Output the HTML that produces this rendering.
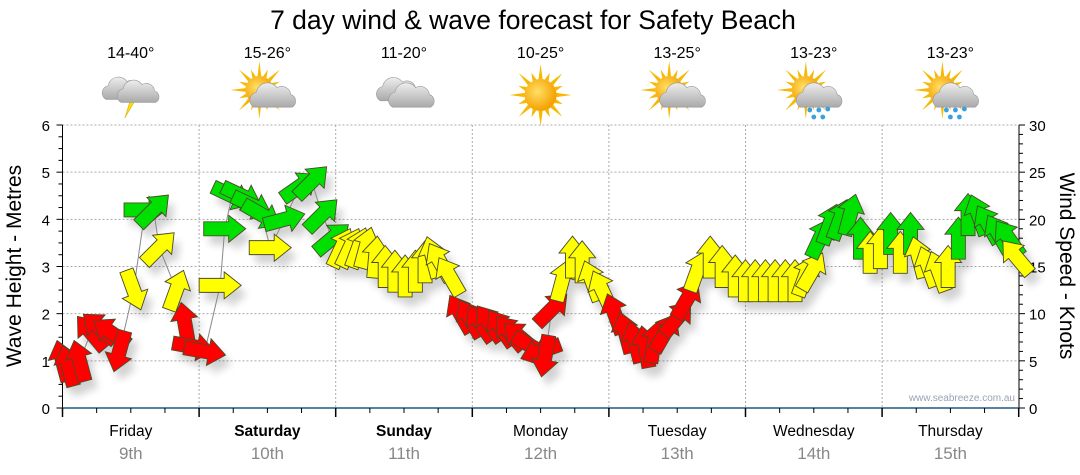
<!DOCTYPE html>
<html><head><meta charset="utf-8"><style>
html,body{margin:0;padding:0;background:#fff;}
svg{display:block;font-family:"Liberation Sans","DejaVu Sans",sans-serif;}
</style></head><body>
<svg id="chart" width="1080" height="475" viewBox="0 0 1080 475" xmlns="http://www.w3.org/2000/svg">
<defs>
<filter id="sh" x="-50%" y="-50%" width="200%" height="200%"><feGaussianBlur in="SourceAlpha" stdDeviation="4"/><feOffset dx="6" dy="9"/><feComponentTransfer><feFuncA type="linear" slope="0.18"/></feComponentTransfer></filter>
<radialGradient id="sun" cx="0.4" cy="0.4" r="0.6"><stop offset="0" stop-color="#ffe066"/><stop offset="1" stop-color="#f5a000"/></radialGradient>
<linearGradient id="cloud" x1="0" y1="0" x2="0" y2="1"><stop offset="0" stop-color="#eeeeee"/><stop offset="1" stop-color="#a9a9a9"/></linearGradient>
</defs>
<text x="533" y="29" font-size="26.5" text-anchor="middle" fill="#000">7 day wind &amp; wave forecast for Safety Beach</text>
<g id="grid"></g>
<g id="icons"></g>
<g id="axes"></g>
<g id="marks"></g>
<text x="1015" y="401" font-size="10" text-anchor="end" fill="#9aa3b5">www.seabreeze.com.au</text>
<text transform="translate(21,266) rotate(-90)" font-size="21" text-anchor="middle" fill="#000">Wave Height - Metres</text>
<text transform="translate(1060,266) rotate(90)" font-size="21" text-anchor="middle" fill="#000">Wind Speed - Knots</text>
</svg>
<script>
const dayNames=["Friday","Saturday","Sunday","Monday","Tuesday","Wednesday","Thursday"];
const dayDates=["9th","10th","11th","12th","13th","14th","15th"];
const dayBold=[false,true,true,false,false,false,false];
const tempLabels=["14-40°","15-26°","11-20°","10-25°","13-25°","13-23°","13-23°"];
const iconTypes=["storm","partly","cloudy","sunny","partly","rain","rain"];
const leftTicks=[0,1,2,3,4,5,6];
const rightTicks=[0,5,10,15,20,25,30];
// wind: hours from Friday 00:00, knots, arrow pointing direction (deg, 0=up, clockwise)
const windHours=[0,1,3,5,6.5,8.5,10,12.5,14.5,16,17,20,21.5,23,
25,27.7,28.5,29.8,31.5,33.3,35,36.5,39,41.7,43.8,45.6,47.4,
49,50.5,52,53.3,55,56.7,58.4,60.2,62,63.7,65,66.3,68,
69.9,71.6,73.4,75,77,78.6,80.4,82.5,84,84.8,86,87.8,89.6,91.3,93,94.8,
97,98.9,100.6,102.4,104,105.9,108,109.7,111.5,113.8,115.9,118.2,
120,121.7,123.5,125.2,127,128.7,130.5,131.7,133.1,134.8,136.6,138.4,140.2,141.9,
143.7,145.5,147.2,149,150.4,152.1,153.9,155.6,157.4,159.1,160.9,162.6,164.4,166.2,167.6];
const windKnots=[5,4.5,5,8,8.5,8,6,12.5,21,21,17,12.5,9,6.5,
6,13,19,22.5,22.5,21.5,20.5,17,20,23.5,24,20.5,18,
17,17,17,17,16,15,14.5,14,14.5,15.5,16,15.5,14,
10,9.5,9,9,8.5,8,7.5,6.5,6,5.5,10.5,13.5,16,15.5,13.5,12.5,
10,8,7,6.5,7,8,9.5,11.5,14.5,16,15,14,
13.5,13.5,13.5,13.5,13.5,13.5,14,14.5,18,19.5,20,20.5,18,16.5,
17,18.5,16.5,18.5,16,15,14.5,15,18,20.5,20.5,19.5,18.5,18,16];
const windDir=[-15,-15,-15,-40,-50,-55,195,160,90,45,45,20,-10,100,
100,90,90,115,115,115,120,90,75,55,45,45,50,
25,25,20,15,5,0,0,0,0,0,-15,-30,
-30,-30,-30,-35,-35,-35,-40,-50,120,250,190,45,15,0,0,-20,-25,
-20,-15,-15,-10,10,30,40,30,20,0,0,0,
0,0,0,0,0,0,20,30,25,20,20,15,0,0,
0,0,0,0,-15,-20,-20,0,0,0,-20,-30,-30,-35,-40];

const NS="http://www.w3.org/2000/svg";
const X0=62.5, DW=136.6, Y0=408, YT=125;
const xH=h=>X0+h*DW/24;
const yM=m=>Y0-(m/6)*(Y0-YT);
const yK=k=>Y0-(k/30)*(Y0-YT);
function mk(tag,attrs,parent){const e=document.createElementNS(NS,tag);for(const k in attrs)e.setAttribute(k,attrs[k]);parent.appendChild(e);return e;}
const grid=document.getElementById('grid'),axes=document.getElementById('axes'),marks=document.getElementById('marks'),icons=document.getElementById('icons');

leftTicks.forEach(v=>{if(v>0){const l=mk('line',{x1:X0,x2:1019,y1:yM(v),y2:yM(v),stroke:'#aaa','stroke-width':1,'stroke-dasharray':'2,2'},grid);

}});
for(let d=1;d<7;d++){const l=mk('line',{x1:X0+d*DW,x2:X0+d*DW,y1:YT,y2:Y0,stroke:'#aaa','stroke-width':1,'stroke-dasharray':'2,2'},grid);

}

mk('line',{x1:X0,x2:X0,y1:YT,y2:Y0,stroke:'#000','stroke-width':1},axes);
mk('line',{x1:1019,x2:1019,y1:YT,y2:Y0,stroke:'#000','stroke-width':1},axes);
const xa=mk('line',{x1:X0,x2:1019,y1:Y0,y2:Y0,stroke:'#1f5a80','stroke-width':1.5},axes);


for(let m=0;m<=24;m++){const v=m*0.25;const w=(m%4===0)?6:4;mk('line',{x1:X0-w,x2:X0,y1:yM(v),y2:yM(v),stroke:'#000'},axes);}
for(let k=0;k<=30;k++){const w=(k%5===0)?6:4;mk('line',{x1:1019,x2:1019+w,y1:yK(k),y2:yK(k),stroke:'#000'},axes);}
leftTicks.forEach(v=>{const t=mk('text',{x:50,y:yM(v)+6,'font-size':15,'text-anchor':'end',fill:'#000'},axes);t.textContent=v;

});
rightTicks.forEach(v=>{const t=mk('text',{x:1029,y:yK(v)+6,'font-size':15,'text-anchor':'start',fill:'#000'},axes);t.textContent=v;

});
for(let q=0;q<=28;q++){const x=X0+q*DW/4;const big=q%4===0;mk('line',{x1:x,x2:x,y1:Y0,y2:Y0+(big?9:5),stroke:'#000','stroke-width':big?1.5:1},axes);}
dayNames.forEach((n,d)=>{const cx=X0+(d+0.5)*DW;
const t=mk('text',{x:cx,y:436,'font-size':15.5,'text-anchor':'middle',fill:'#000','font-weight':dayBold[d]?'bold':'normal'},axes);t.textContent=n;


const t2=mk('text',{x:cx,y:459,'font-size':17,'text-anchor':'middle',fill:'#888'},axes);t2.textContent=dayDates[d];


const t3=mk('text',{x:cx,y:58,'font-size':16,'text-anchor':'middle',fill:'#000'},icons);t3.textContent=tempLabels[d];


drawIcon(iconTypes[d],cx,95);});

function sunAt(g,x,y,r){for(let i=0;i<16;i++){const a=i*Math.PI/8;const L=(i%2?r+8:r+15);
mk('polygon',{points:`${x+Math.cos(a-0.13)*r},${y+Math.sin(a-0.13)*r} ${x+Math.cos(a)*L},${y+Math.sin(a)*L} ${x+Math.cos(a+0.13)*r},${y+Math.sin(a+0.13)*r}`,fill:'#f6b800'},g);}
mk('circle',{cx:x,cy:y,r:r,fill:'url(#sun)'},g);}
function cloudAt(g,x,y,s){const p=`M${x-16*s},${y+8*s} a${7*s},${7*s} 0 0 1 ${2*s},${-13*s} a${10*s},${10*s} 0 0 1 ${18*s},${-4*s} a${8*s},${8*s} 0 0 1 ${12*s},${6*s} a${6*s},${6*s} 0 0 1 ${1*s},${11*s} z`;
mk('path',{d:p,fill:'url(#cloud)',stroke:'#999','stroke-width':0.6},g);}
function drawIcon(type,x,y){const g=mk('g',{},icons);


if(type==='sunny'){sunAt(g,x,y,16);}
else if(type==='cloudy'){cloudAt(g,x-6,y-3,1.1);cloudAt(g,x+7,y+3,1.15);}
else if(type==='storm'){cloudAt(g,x-8,y-4,1.05);mk('polygon',{points:`${x},${y-8} ${x-7},${y+7} ${x-1},${y+7} ${x-6},${y+23} ${x+7},${y+1} ${x+1},${y+1} ${x+6},${y-8}`,fill:'#ffdd00',stroke:'#c9a000','stroke-width':0.5},g);cloudAt(g,x+7,y-1,1.05);}
else {sunAt(g,x-8,y-5,14);cloudAt(g,x+5,y+3,1.15);
if(type==='rain'){[[-4,15],[5,15],[14,14],[0,22],[9,22]].forEach(p=>mk('circle',{cx:x+p[0],cy:y+p[1],r:2.4,fill:'#3aa0e0'},g));}}}

function col(k){return k<12?'#ff0000':(k<18?'#ffff00':'#00e000');}
const L=42,SW=14,HW=27,HL=17;
const arrowPts=`0,${-L/2} ${HW/2},${-L/2+HL} ${SW/2},${-L/2+HL} ${SW/2},${L/2} ${-SW/2},${L/2} ${-SW/2},${-L/2+HL} ${-HW/2},${-L/2+HL}`;
const lp=windHours.map((h,i)=>`${xH(h)},${yK(windKnots[i])}`).join(' ');
const shadows=mk('g',{filter:'url(#sh)'},marks);
const line=mk('polyline',{points:lp,fill:'none',stroke:'#888','stroke-width':1},marks);


windHours.forEach((h,i)=>{const x=xH(h),y=yK(windKnots[i]);
mk('polygon',{points:arrowPts,transform:`translate(${x},${y}) rotate(${windDir[i]})`,fill:'#000'},shadows);});
windHours.forEach((h,i)=>{const x=xH(h),y=yK(windKnots[i]);
const a=mk('polygon',{points:arrowPts,transform:`translate(${x},${y}) rotate(${windDir[i]})`,fill:col(windKnots[i]),stroke:'#4a4a2a','stroke-width':0.9,'stroke-linejoin':'miter'},marks);

});
</script>
</body></html>
